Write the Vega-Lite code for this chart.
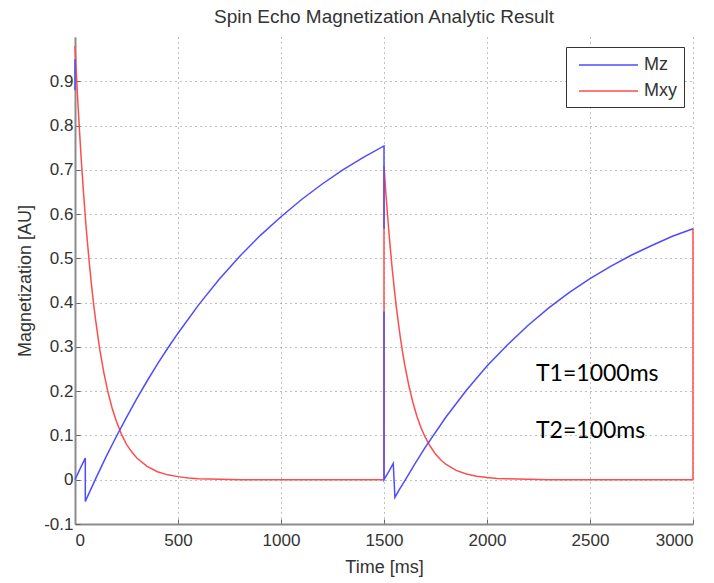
{
  "$schema": "https://vega.github.io/schema/vega-lite/v6.json",
  "width": 618,
  "height": 487,
  "autosize": "none",
  "padding": {"left": 75, "top": 37, "right": 21, "bottom": 59},
  "background": "white",
  "title": {
    "text": "Spin Echo Magnetization Analytic Result",
    "font": "Liberation Sans",
    "fontSize": 19,
    "fontWeight": "normal",
    "color": "#333333",
    "offset": 10,
    "anchor": "middle"
  },
  "config": {
    "view": {"stroke": null},
    "axis": {
      "labelFont": "Liberation Sans",
      "labelFontSize": 17,
      "labelColor": "#333333",
      "titleFont": "Liberation Sans",
      "titleFontSize": 18,
      "titleFontWeight": "normal",
      "titleColor": "#333333",
      "domainColor": "#8c8c8c",
      "domainWidth": 2,
      "tickColor": "#666666",
      "tickSize": -5,
      "grid": true,
      "gridColor": "#808080",
      "gridDash": [1, 4],
      "gridWidth": 1
    }
  },
  "datasets": {
    "curves": [
      {"series": "Mxy", "seg": "r", "t": 0, "m": 0.98},
      {"series": "Mxy", "seg": "r", "t": 5, "m": 0.932},
      {"series": "Mxy", "seg": "r", "t": 10, "m": 0.887},
      {"series": "Mxy", "seg": "r", "t": 15, "m": 0.843},
      {"series": "Mxy", "seg": "r", "t": 20, "m": 0.802},
      {"series": "Mxy", "seg": "r", "t": 30, "m": 0.726},
      {"series": "Mxy", "seg": "r", "t": 40, "m": 0.657},
      {"series": "Mxy", "seg": "r", "t": 50, "m": 0.594},
      {"series": "Mxy", "seg": "r", "t": 60, "m": 0.538},
      {"series": "Mxy", "seg": "r", "t": 70, "m": 0.487},
      {"series": "Mxy", "seg": "r", "t": 80, "m": 0.44},
      {"series": "Mxy", "seg": "r", "t": 90, "m": 0.398},
      {"series": "Mxy", "seg": "r", "t": 100, "m": 0.361},
      {"series": "Mxy", "seg": "r", "t": 120, "m": 0.295},
      {"series": "Mxy", "seg": "r", "t": 140, "m": 0.242},
      {"series": "Mxy", "seg": "r", "t": 160, "m": 0.198},
      {"series": "Mxy", "seg": "r", "t": 180, "m": 0.162},
      {"series": "Mxy", "seg": "r", "t": 200, "m": 0.133},
      {"series": "Mxy", "seg": "r", "t": 225, "m": 0.103},
      {"series": "Mxy", "seg": "r", "t": 250, "m": 0.08},
      {"series": "Mxy", "seg": "r", "t": 275, "m": 0.063},
      {"series": "Mxy", "seg": "r", "t": 300, "m": 0.049},
      {"series": "Mxy", "seg": "r", "t": 350, "m": 0.03},
      {"series": "Mxy", "seg": "r", "t": 400, "m": 0.018},
      {"series": "Mxy", "seg": "r", "t": 450, "m": 0.011},
      {"series": "Mxy", "seg": "r", "t": 500, "m": 0.007},
      {"series": "Mxy", "seg": "r", "t": 550, "m": 0.004},
      {"series": "Mxy", "seg": "r", "t": 600, "m": 0.002},
      {"series": "Mxy", "seg": "r", "t": 700, "m": 0.001},
      {"series": "Mxy", "seg": "r", "t": 800, "m": 0},
      {"series": "Mxy", "seg": "r", "t": 1500, "m": 0},
      {"series": "Mxy", "seg": "r", "t": 1500, "m": 0.71},
      {"series": "Mxy", "seg": "r", "t": 1505, "m": 0.675},
      {"series": "Mxy", "seg": "r", "t": 1510, "m": 0.642},
      {"series": "Mxy", "seg": "r", "t": 1520, "m": 0.581},
      {"series": "Mxy", "seg": "r", "t": 1530, "m": 0.526},
      {"series": "Mxy", "seg": "r", "t": 1540, "m": 0.476},
      {"series": "Mxy", "seg": "r", "t": 1550, "m": 0.431},
      {"series": "Mxy", "seg": "r", "t": 1560, "m": 0.39},
      {"series": "Mxy", "seg": "r", "t": 1570, "m": 0.353},
      {"series": "Mxy", "seg": "r", "t": 1580, "m": 0.319},
      {"series": "Mxy", "seg": "r", "t": 1590, "m": 0.289},
      {"series": "Mxy", "seg": "r", "t": 1600, "m": 0.261},
      {"series": "Mxy", "seg": "r", "t": 1620, "m": 0.214},
      {"series": "Mxy", "seg": "r", "t": 1640, "m": 0.175},
      {"series": "Mxy", "seg": "r", "t": 1660, "m": 0.143},
      {"series": "Mxy", "seg": "r", "t": 1680, "m": 0.117},
      {"series": "Mxy", "seg": "r", "t": 1700, "m": 0.096},
      {"series": "Mxy", "seg": "r", "t": 1725, "m": 0.075},
      {"series": "Mxy", "seg": "r", "t": 1750, "m": 0.058},
      {"series": "Mxy", "seg": "r", "t": 1775, "m": 0.045},
      {"series": "Mxy", "seg": "r", "t": 1800, "m": 0.035},
      {"series": "Mxy", "seg": "r", "t": 1850, "m": 0.021},
      {"series": "Mxy", "seg": "r", "t": 1900, "m": 0.013},
      {"series": "Mxy", "seg": "r", "t": 1950, "m": 0.008},
      {"series": "Mxy", "seg": "r", "t": 2000, "m": 0.005},
      {"series": "Mxy", "seg": "r", "t": 2050, "m": 0.003},
      {"series": "Mxy", "seg": "r", "t": 2100, "m": 0.002},
      {"series": "Mxy", "seg": "r", "t": 2200, "m": 0.001},
      {"series": "Mxy", "seg": "r", "t": 2300, "m": 0},
      {"series": "Mxy", "seg": "r", "t": 3000, "m": 0},
      {"series": "Mxy", "seg": "r", "t": 3000, "m": 0.567},
      {"series": "Mz", "seg": "z0", "t": 0, "m": 0.95},
      {"series": "Mz", "seg": "z0", "t": 0, "m": 0.88},
      {"series": "Mz", "seg": "z1", "t": 0, "m": 0},
      {"series": "Mz", "seg": "z1", "t": 25, "m": 0.025},
      {"series": "Mz", "seg": "z1", "t": 50, "m": 0.049},
      {"series": "Mz", "seg": "z1", "t": 50, "m": -0.049},
      {"series": "Mz", "seg": "z1", "t": 100, "m": 0.002},
      {"series": "Mz", "seg": "z1", "t": 150, "m": 0.051},
      {"series": "Mz", "seg": "z1", "t": 200, "m": 0.097},
      {"series": "Mz", "seg": "z1", "t": 250, "m": 0.141},
      {"series": "Mz", "seg": "z1", "t": 300, "m": 0.183},
      {"series": "Mz", "seg": "z1", "t": 350, "m": 0.223},
      {"series": "Mz", "seg": "z1", "t": 400, "m": 0.261},
      {"series": "Mz", "seg": "z1", "t": 450, "m": 0.297},
      {"series": "Mz", "seg": "z1", "t": 500, "m": 0.331},
      {"series": "Mz", "seg": "z1", "t": 600, "m": 0.395},
      {"series": "Mz", "seg": "z1", "t": 700, "m": 0.453},
      {"series": "Mz", "seg": "z1", "t": 800, "m": 0.505},
      {"series": "Mz", "seg": "z1", "t": 900, "m": 0.552},
      {"series": "Mz", "seg": "z1", "t": 1000, "m": 0.594},
      {"series": "Mz", "seg": "z1", "t": 1100, "m": 0.633},
      {"series": "Mz", "seg": "z1", "t": 1200, "m": 0.668},
      {"series": "Mz", "seg": "z1", "t": 1300, "m": 0.7},
      {"series": "Mz", "seg": "z1", "t": 1400, "m": 0.728},
      {"series": "Mz", "seg": "z1", "t": 1500, "m": 0.754},
      {"series": "Mz", "seg": "z1", "t": 1500, "m": 0.567},
      {"series": "Mz", "seg": "z2", "t": 1500, "m": 0.38},
      {"series": "Mz", "seg": "z2", "t": 1500, "m": 0},
      {"series": "Mz", "seg": "z2", "t": 1525, "m": 0.02},
      {"series": "Mz", "seg": "z2", "t": 1545, "m": 0.037},
      {"series": "Mz", "seg": "z2", "t": 1553, "m": -0.04},
      {"series": "Mz", "seg": "z2", "t": 1575, "m": -0.022},
      {"series": "Mz", "seg": "z2", "t": 1600, "m": -0.003},
      {"series": "Mz", "seg": "z2", "t": 1650, "m": 0.036},
      {"series": "Mz", "seg": "z2", "t": 1700, "m": 0.073},
      {"series": "Mz", "seg": "z2", "t": 1800, "m": 0.141},
      {"series": "Mz", "seg": "z2", "t": 1900, "m": 0.202},
      {"series": "Mz", "seg": "z2", "t": 2000, "m": 0.257},
      {"series": "Mz", "seg": "z2", "t": 2100, "m": 0.305},
      {"series": "Mz", "seg": "z2", "t": 2200, "m": 0.349},
      {"series": "Mz", "seg": "z2", "t": 2300, "m": 0.388},
      {"series": "Mz", "seg": "z2", "t": 2400, "m": 0.423},
      {"series": "Mz", "seg": "z2", "t": 2500, "m": 0.454},
      {"series": "Mz", "seg": "z2", "t": 2600, "m": 0.482},
      {"series": "Mz", "seg": "z2", "t": 2700, "m": 0.507},
      {"series": "Mz", "seg": "z2", "t": 2800, "m": 0.529},
      {"series": "Mz", "seg": "z2", "t": 2900, "m": 0.55},
      {"series": "Mz", "seg": "z2", "t": 3000, "m": 0.567}
    ],
    "notes": [
      {"t": 2238, "m": 0.239, "label": "T1=1000ms"},
      {"t": 2238, "m": 0.111, "label": "T2=100ms"}
    ]
  },
  "layer": [
    {
      "data": {"name": "curves"},
      "mark": {"type": "line", "strokeWidth": 1.5},
      "encoding": {
        "x": {
          "field": "t",
          "type": "quantitative",
          "scale": {"domain": [0, 3000], "nice": false, "zero": false},
          "axis": {
            "title": "Time [ms]",
            "values": [0, 500, 1000, 1500, 2000, 2500, 3000],
            "format": "d",
            "labelPadding": 13,
            "titlePadding": 10
          }
        },
        "y": {
          "field": "m",
          "type": "quantitative",
          "scale": {"domain": [-0.1, 1], "nice": false, "zero": false},
          "axis": {
            "title": "Magnetization [AU]",
            "values": [-0.1, 0, 0.1, 0.2, 0.3, 0.4, 0.5, 0.6, 0.7, 0.8, 0.9],
            "format": ".1~f",
            "labelExpr": "replace(datum.label, '\u2212', '-')",
            "labelPadding": 7,
            "titlePadding": 9
          }
        },
        "color": {
          "field": "series",
          "type": "nominal",
          "scale": {"domain": ["Mz", "Mxy"], "range": ["#4d4dff", "#ff4d4d"]},
          "legend": {
            "title": null,
            "orient": "none",
            "legendX": 491,
            "legendY": 10,
            "direction": "vertical",
            "symbolType": "M-0.5,0H5.4",
            "symbolSize": 400,
            "symbolStrokeWidth": 1.5,
            "symbolFillColor": "transparent",
            "labelFont": "Liberation Sans",
            "labelFontSize": 18,
            "labelColor": "#333333",
            "labelOffset": 49,
            "padding": 7,
            "rowPadding": 6,
            "strokeColor": "#333333",
            "fillColor": "white",
            "cornerRadius": 0
          }
        },
        "detail": {"field": "seg"},
        "order": {"value": null}
      }
    },
    {
      "data": {"name": "notes"},
      "mark": {"type": "text", "align": "left", "baseline": "middle", "font": "Lato", "fontSize": 23, "color": "black"},
      "encoding": {
        "x": {"field": "t", "type": "quantitative"},
        "y": {"field": "m", "type": "quantitative"},
        "text": {"field": "label"}
      }
    }
  ]
}
